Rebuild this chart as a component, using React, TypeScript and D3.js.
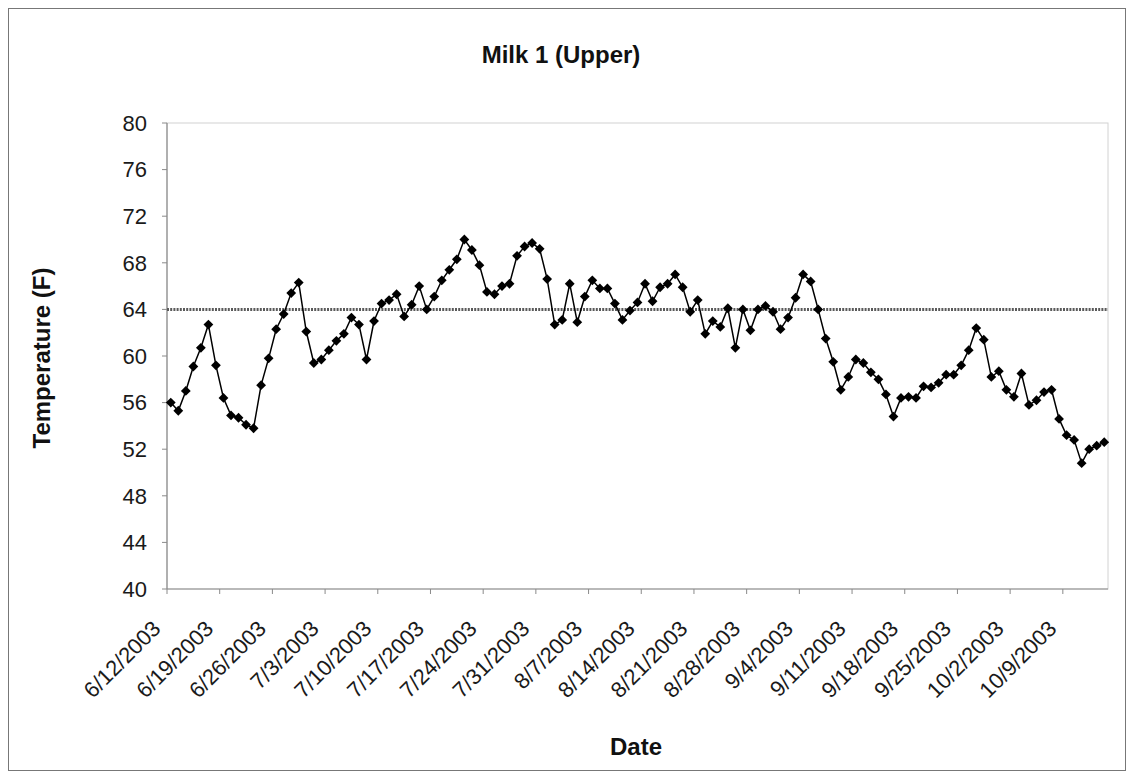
import React, { useEffect } from "react";
import * as d3 from "d3";

const title = "Milk 1 (Upper)";
const xTitle = "Date";
const yTitle = "Temperature (F)";
const startDate = new Date(2003, 5, 12);
const temps = [
  56.0, 55.3, 57.0, 59.1, 60.7, 62.7, 59.2, 56.4, 54.9, 54.7,
  54.1, 53.8, 57.5, 59.8, 62.3, 63.6, 65.4, 66.3, 62.1, 59.4,
  59.7, 60.5, 61.3, 61.9, 63.3, 62.7, 59.7, 63.0, 64.5, 64.8,
  65.3, 63.4, 64.4, 66.0, 64.0, 65.1, 66.5, 67.4, 68.3, 70.0,
  69.1, 67.8, 65.5, 65.3, 66.0, 66.2, 68.6, 69.4, 69.7, 69.2,
  66.6, 62.7, 63.1, 66.2, 62.9, 65.1, 66.5, 65.8, 65.8, 64.5,
  63.1, 63.9, 64.6, 66.2, 64.7, 65.9, 66.2, 67.0, 65.9, 63.8,
  64.8, 61.9, 63.0, 62.5, 64.1, 60.7, 64.0, 62.2, 64.0, 64.3,
  63.8, 62.3, 63.3, 65.0, 67.0, 66.4, 64.0, 61.5, 59.5, 57.1,
  58.2, 59.7, 59.4, 58.6, 58.0, 56.7, 54.8, 56.4, 56.5, 56.4,
  57.4, 57.3, 57.7, 58.4, 58.4, 59.2, 60.5, 62.4, 61.4, 58.2,
  58.7, 57.1, 56.5, 58.5, 55.8, 56.2, 56.9, 57.1, 54.6, 53.2,
  52.8, 50.8, 52.0, 52.3, 52.6,
];
const threshold = 64;
const yTicks = [40, 44, 48, 52, 56, 60, 64, 68, 72, 76, 80];
const tickStepDays = 7;

const W = 1133;
const H = 778;
const M = { left: 167, right: 1108, top: 123, bottom: 589 };
const FONT = "'Liberation Sans', Arial, Helvetica, sans-serif";

export default function App() {
  useEffect(() => {
    document.body.style.margin = "0";
  }, []);

  const dates = temps.map((_, i) => d3.timeDay.offset(startDate, i));
  const endDate = d3.timeDay.offset(startDate, temps.length);
  const x = d3.scaleTime().domain([startDate, endDate]).range([M.left, M.right]);
  const y = d3.scaleLinear().domain([40, 80]).range([M.bottom, M.top]);
  const cx = (d: Date) => x(d3.timeHour.offset(d, 12));

  const tickDates = d3
    .range(0, temps.length, tickStepDays)
    .map((k) => d3.timeDay.offset(startDate, k));
  const fmt = (d: Date) => `${d.getMonth() + 1}/${d.getDate()}/${d.getFullYear()}`;

  const line = d3
    .line<number>()
    .x((_, i) => cx(dates[i]))
    .y((v) => y(v));

  const r = 4.9;

  return (
    <svg
      width={W}
      height={H}
      style={{ display: "block", position: "absolute", left: 0, top: 0, background: "#fff" }}
      fontFamily={FONT}
    >
      <rect x={0} y={0} width={W} height={H} fill="#fff" />
      <rect x={8.5} y={8.5} width={1117} height={762} fill="none" stroke="#777" strokeWidth={1} />

      {/* plot area border */}
      <rect
        x={M.left}
        y={M.top}
        width={M.right - M.left}
        height={M.bottom - M.top}
        fill="none"
        stroke="#d2d2d2"
        strokeWidth={1}
      />

      {/* y axis */}
      <line x1={M.left} x2={M.left} y1={M.top} y2={M.bottom} stroke="#8a8a8a" strokeWidth={1.2} />
      {yTicks.map((t) => (
        <g key={t}>
          <line x1={M.left - 5} x2={M.left} y1={y(t)} y2={y(t)} stroke="#8a8a8a" strokeWidth={1} />
          <text
            x={147}
            y={y(t)}
            dy="0.35em"
            textAnchor="end"
            fontSize={22}
            fill="#1a1a1a"
          >
            {t}
          </text>
        </g>
      ))}

      {/* x axis */}
      <line x1={M.left} x2={M.right} y1={M.bottom} y2={M.bottom} stroke="#8a8a8a" strokeWidth={1.2} />
      {tickDates.map((d) => (
        <g key={+d}>
          <line x1={x(d)} x2={x(d)} y1={M.bottom} y2={M.bottom + 5} stroke="#8a8a8a" strokeWidth={1} />
          <text
            transform={`translate(${x(d) - 5},${M.bottom + 41}) rotate(-45)`}
            textAnchor="end"
            fontSize={22}
            fill="#1a1a1a"
          >
            {fmt(d)}
          </text>
        </g>
      ))}

      {/* threshold line */}
      <line
        x1={M.left}
        x2={M.right}
        y1={y(threshold)}
        y2={y(threshold)}
        stroke="#5a5a5a"
        strokeWidth={3}
        strokeDasharray="2 1.2"
      />

      {/* series */}
      <path d={line(temps) || ""} fill="none" stroke="#000" strokeWidth={1.5} />
      {temps.map((v, i) => {
        const px = cx(dates[i]);
        const py = y(v);
        return (
          <path
            key={i}
            d={`M${px},${py - r}L${px + r},${py}L${px},${py + r}L${px - r},${py}Z`}
            fill="#000"
          />
        );
      })}

      {/* titles */}
      <text x={561} y={63} textAnchor="middle" fontSize={24} fontWeight="bold" fill="#111">
        {title}
      </text>
      <text x={636} y={755} textAnchor="middle" fontSize={24} fontWeight="bold" fill="#111">
        {xTitle}
      </text>
      <text
        transform={`translate(50,358) rotate(-90)`}
        textAnchor="middle"
        fontSize={24}
        fontWeight="bold"
        fill="#111"
      >
        {yTitle}
      </text>
    </svg>
  );
}
